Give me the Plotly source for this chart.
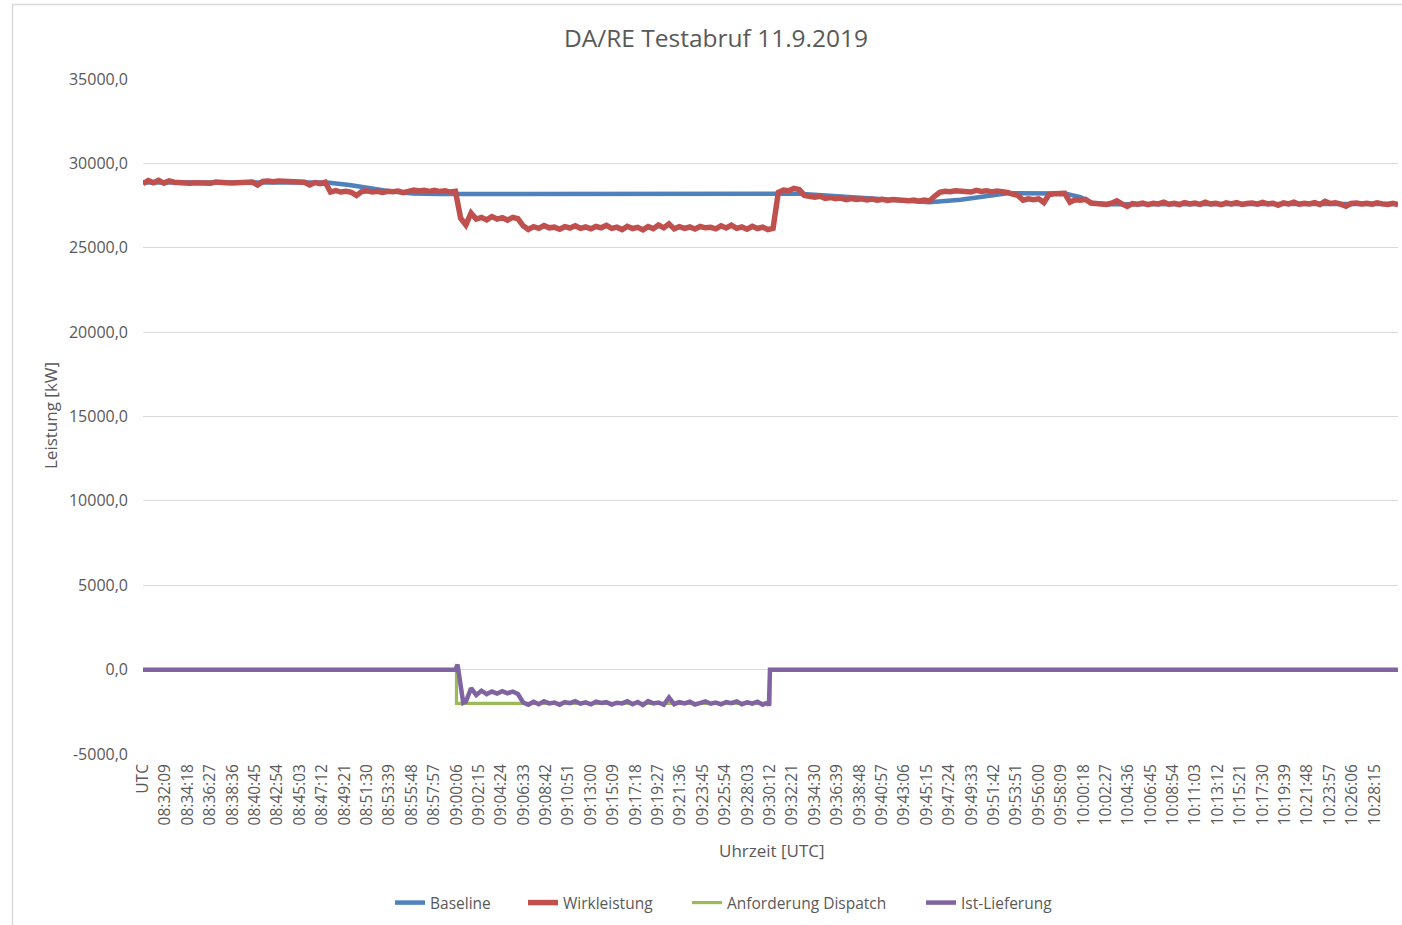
import plotly.graph_objects as go

# ---------------- data ----------------
# x axis: seconds after the first category ("UTC"); category labels every 129 s
tick_labels = [
    "UTC", "08:32:09", "08:34:18", "08:36:27", "08:38:36", "08:40:45", "08:42:54",
    "08:45:03", "08:47:12", "08:49:21", "08:51:30", "08:53:39", "08:55:48", "08:57:57",
    "09:00:06", "09:02:15", "09:04:24", "09:06:33", "09:08:42", "09:10:51", "09:13:00",
    "09:15:09", "09:17:18", "09:19:27", "09:21:36", "09:23:45", "09:25:54", "09:28:03",
    "09:30:12", "09:32:21", "09:34:30", "09:36:39", "09:38:48", "09:40:57", "09:43:06",
    "09:45:15", "09:47:24", "09:49:33", "09:51:42", "09:53:51", "09:56:00", "09:58:09",
    "10:00:18", "10:02:27", "10:04:36", "10:06:45", "10:08:54", "10:11:03", "10:13:12",
    "10:15:21", "10:17:30", "10:19:39", "10:21:48", "10:23:57", "10:26:06", "10:28:15",
]
tick_step_s = 129

y_ticks = [-5000, 0, 5000, 10000, 15000, 20000, 25000, 30000, 35000]
y_tick_text = ["-5000,0", "0,0", "5000,0", "10000,0", "15000,0", "20000,0",
               "25000,0", "30000,0", "35000,0"]

# Baseline (kW)
baseline_t = [0, 1060, 1190, 1310, 1420, 1555, 1700, 3780, 4070, 4360, 4530,
              4710, 4880, 4980, 5310, 5400, 5470, 5570, 7230]
baseline_v = [28860, 28860, 28720, 28530, 28350, 28220, 28190, 28200, 28000, 27800,
              27700, 27850, 28100, 28230, 28220, 28000, 27650, 27580, 27590]

# Wirkleistung (kW), sampled every 30 s
wirk_t = list(range(0, 7231, 30))
wirk_v = [
    28800, 28980, 28850, 28990, 28830, 28960, 28880, 28840, 28860, 28820, 28850, 28830,
    28870, 28820, 28900, 28840, 28850, 28830, 28850, 28880, 28820, 28890, 28720, 28930,
    28960, 28910, 28950, 28920, 28970, 28900, 28860, 28880, 28720, 28860, 28800, 28880,
    28300, 28380, 28300, 28340, 28280, 28100, 28330, 28380, 28300, 28350, 28280, 28350,
    28320, 28360, 28270, 28380, 28420, 28360, 28400, 28340, 28410, 28330, 28380, 28300,
    28340,
    26750, 26350, 27050, 26700, 26800, 26650, 26850, 26700, 26780, 26640, 26800, 26720,
    26300, 26080,
    26250, 26150, 26320, 26180, 26220, 26100, 26250, 26170, 26300, 26150, 26230, 26120,
    26260, 26180, 26330, 26150, 26220, 26080, 26270, 26140, 26210, 26060, 26250, 26130,
    26350, 26180, 26420, 26120, 26250, 26150, 26230, 26110, 26260, 26180, 26210, 26120,
    26300, 26170, 26340, 26150, 26230, 26100, 26270, 26140, 26220, 26080,
    26150, 28280, 28420, 28380, 28520, 28450, 28100, 28060, 28000, 28050, 27930, 27980,
    27900, 27940, 27850, 27920, 27860, 27900, 27830, 27880, 27820, 27870, 27800, 27860,
    27810, 27840, 27780, 27830, 27760, 27820, 27770,
    28050, 28280, 28350, 28320, 28380, 28330, 28360, 28300, 28400, 28340, 28370, 28310,
    28360, 28330, 28280,
    28180, 28100, 27820, 27900, 27850, 27900, 27680, 28150, 28200, 28180, 28220, 27700,
    27850, 27820, 27870, 27650, 27600, 27620, 27570, 27640, 27780, 27600, 27450, 27620,
    27580, 27650,
    27560, 27640, 27600, 27700, 27580, 27630, 27560, 27680, 27600, 27650, 27570, 27700,
    27590, 27640, 27550, 27660, 27600, 27680, 27570, 27620, 27650, 27580, 27690, 27600,
    27640, 27520, 27660, 27600, 27700, 27580, 27640, 27600, 27670, 27560,
    27750, 27620, 27660, 27580, 27460, 27620, 27650, 27590, 27640, 27580, 27660, 27600,
    27560, 27630, 27560,
]

# Anforderung Dispatch (kW)
dispatch_t = [0, 1806, 1806, 3612, 3612, 7230]
dispatch_v = [0, 0, -2000, -2000, 0, 0]

# Ist-Lieferung (kW)
ist_t = [0, 1800, 1812, 1845] + list(range(1860, 3601, 30)) + [3606, 3612, 7230]
ist_v = [0, 0, 300, -1970,
         -1900, -1100, -1500, -1250, -1450, -1300, -1420, -1280, -1400, -1300, -1450,
         -1950, -2080, -1900, -2050, -1880, -2000, -1950, -2080, -1920, -1990, -1870,
         -2020, -1940, -2060, -1900, -1980, -1930, -2070, -1960, -2000, -1880, -2050,
         -1920, -2100, -1870, -2000, -1950, -2080, -1650, -2050, -1930, -2000, -1900,
         -2070, -1960, -1880, -2020, -1950, -2060, -1920, -1990, -1880, -2050, -1940,
         -2010, -1900, -2080, -1950,
         -2150, 0, 0]

# ---------------- figure ----------------
FONT = "Open Sans"
GREY = "#595959"
PLOT_L, PLOT_W, PLOT_B, PLOT_H = 143, 1255, 754, 675


def px_x(px):
    return (px - PLOT_L) / PLOT_W


def px_y(py):
    return (PLOT_B - py) / PLOT_H


fig = go.Figure()
fig.add_trace(go.Scatter(x=baseline_t, y=baseline_v, mode="lines", name="Baseline",
                         line=dict(color="#4F81BD", width=4.5), legend="legend"))
fig.add_trace(go.Scatter(x=wirk_t, y=wirk_v, mode="lines", name="Wirkleistung",
                         line=dict(color="#C0504D", width=5.5), legend="legend2"))
fig.add_trace(go.Scatter(x=dispatch_t, y=dispatch_v, mode="lines", name="Anforderung Dispatch",
                         line=dict(color="#9BBB59", width=3.2), legend="legend3"))
fig.add_trace(go.Scatter(x=ist_t, y=ist_v, mode="lines", name="Ist-Lieferung",
                         line=dict(color="#8064A2", width=4.5), legend="legend4"))

legend_font = dict(family=FONT, size=15.5, color=GREY)
legend_text_starts = [430, 563, 727, 961]
legend_common = dict(xanchor="left", y=px_y(903), yanchor="middle",
                     font=legend_font, bgcolor="rgba(0,0,0,0)", borderwidth=0)

fig.update_layout(
    width=1402, height=925,
    margin=dict(l=PLOT_L, r=1402 - PLOT_L - PLOT_W, t=79, b=925 - PLOT_B),
    paper_bgcolor="white", plot_bgcolor="white",
    font=dict(family=FONT, color=GREY, size=15),
    title=dict(text="DA/RE Testabruf 11.9.2019", x=716 / 1402, xanchor="center",
               xref="container", y=1 - 38 / 925, yanchor="middle", yref="container",
               font=dict(family=FONT, size=24.5, color=GREY)),
    showlegend=True,
    legend=dict(x=px_x(legend_text_starts[0] - 40), **legend_common),
    legend2=dict(x=px_x(legend_text_starts[1] - 40), **legend_common),
    legend3=dict(x=px_x(legend_text_starts[2] - 40), **legend_common),
    legend4=dict(x=px_x(legend_text_starts[3] - 40), **legend_common),
    xaxis=dict(range=[0, 7230], tickmode="array",
               tickvals=[k * tick_step_s for k in range(len(tick_labels))],
               ticktext=tick_labels, tickangle=-90, showgrid=False, zeroline=False,
               showline=False, ticks="", tickfont=dict(family=FONT, size=15.5, color=GREY),
               ticklabelstandoff=6),
    yaxis=dict(range=[-5000, 35000], tickmode="array", tickvals=y_ticks,
               ticktext=y_tick_text, showgrid=True, gridcolor="#D9D9D9", gridwidth=1,
               zeroline=False, showline=False, ticks="",
               tickfont=dict(family=FONT, size=16, color=GREY), ticklabelstandoff=14),
    annotations=[
        dict(text="Leistung [kW]", xref="paper", yref="paper",
             x=px_x(50), y=px_y(416), textangle=-90,
             showarrow=False, xanchor="center", yanchor="middle",
             font=dict(family=FONT, size=17, color=GREY)),
        dict(text="Uhrzeit [UTC]", xref="paper", yref="paper",
             x=px_x(772), y=px_y(850),
             showarrow=False, xanchor="center", yanchor="middle",
             font=dict(family=FONT, size=17, color=GREY)),
    ],
    shapes=[
        dict(type="rect", xref="paper", yref="paper",
             x0=px_x(12.5), x1=px_x(1420), y0=px_y(940), y1=px_y(4.5),
             line=dict(color="#D9D9D9", width=1.5), fillcolor="rgba(0,0,0,0)",
             layer="below"),
    ],
)

fig.write_html("out.html", config={"displayModeBar": False},
               post_script="document.body.style.margin='0';")
